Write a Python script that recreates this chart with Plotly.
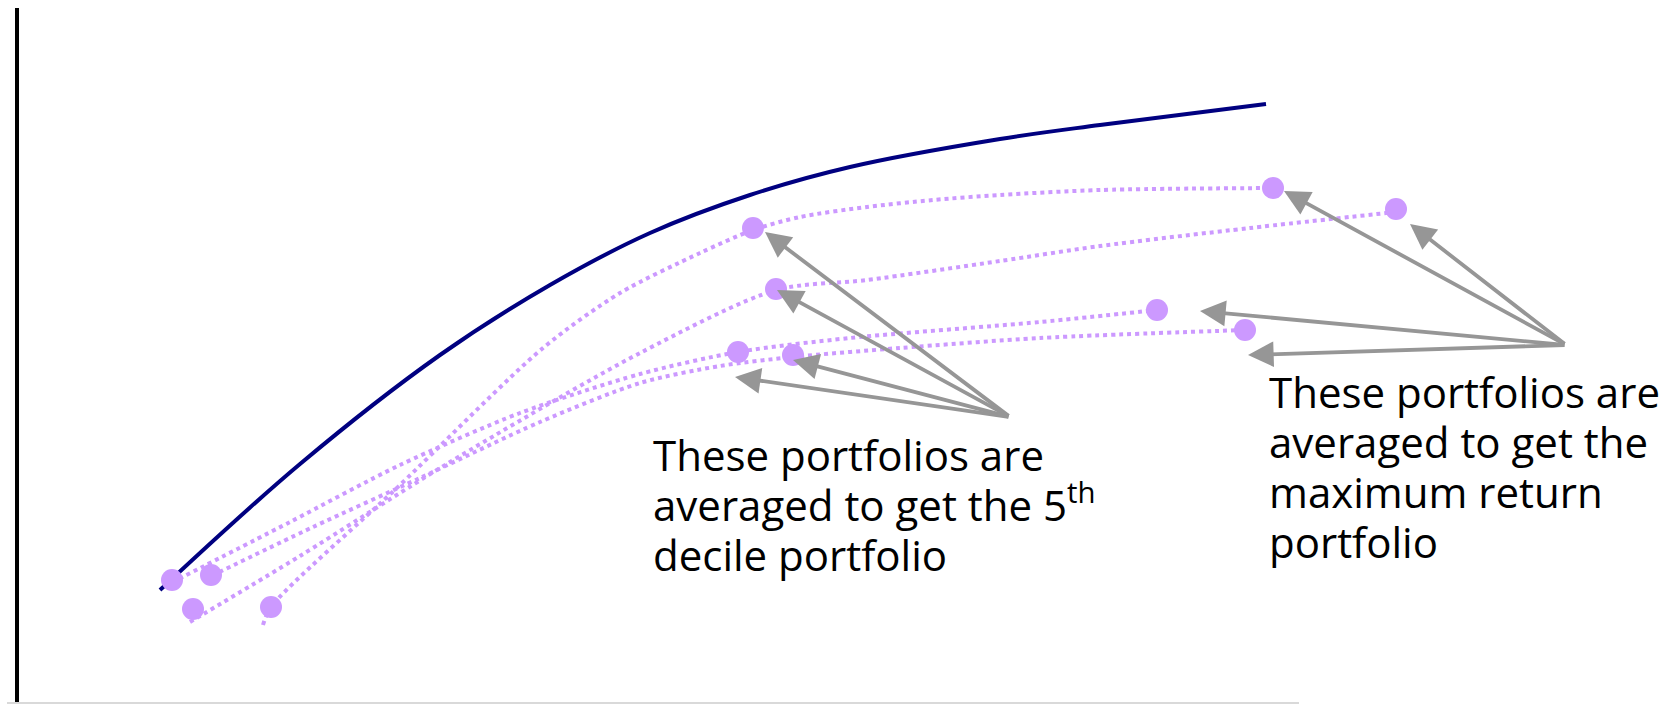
import plotly.graph_objects as go

# ---- data (risk on x, return on y; arbitrary units) ----
frontier_x = [160, 300, 440, 550, 650, 750, 850, 1000, 1100, 1266]
frontier_y = [114, 240, 349, 419, 471, 509, 537, 565, 579, 600]

resamp_a_x = [263, 271, 400, 543, 620, 700, 753, 800, 867, 933, 1000, 1100, 1273]
resamp_a_y = [79, 97, 219, 356, 411, 451, 474, 487, 497, 504, 509, 514, 516]

resamp_b_x = [190, 300, 450, 640, 776, 867, 1000, 1100, 1250, 1396]
resamp_b_y = [82, 148, 242, 351, 414, 424, 443, 458, 476, 492]

resamp_c_x = [165, 290, 400, 520, 640, 738, 850, 1040, 1157]
resamp_c_y = [118, 182, 239, 291, 330, 352, 366, 382, 394]

resamp_d_x = [205, 313, 420, 540, 640, 720, 793, 900, 1040, 1245]
resamp_d_y = [125, 177, 226, 282, 321, 338, 347, 356, 366, 374]

dots_x = [172, 211, 193, 271, 753, 776, 738, 793, 1273, 1396, 1157, 1245]
dots_y = [124, 129, 95, 97, 476, 415, 352, 349, 516, 495, 394, 374]

mid_arrow_origin = (1010, 287)
mid_arrow_tips = [(765, 472), (777, 414), (793, 344), (735, 327)]
max_arrow_origin = (1566, 359)
max_arrow_tips = [(1284, 513), (1410, 480), (1200, 393), (1248, 349)]

mid_label_lines = ["These portfolios are", "averaged to get the 5<sup>th</sup>", "decile portfolio"]
max_label_lines = ["These portfolios are", "averaged to get the", "maximum return", "portfolio"]

NAVY = "#000080"
PURPLE = "#CC99FF"
GRAY = "#969696"

fig = go.Figure()

for xs, ys in [(resamp_a_x, resamp_a_y), (resamp_b_x, resamp_b_y),
               (resamp_c_x, resamp_c_y), (resamp_d_x, resamp_d_y)]:
    fig.add_trace(go.Scatter(x=xs, y=ys, mode="lines",
                             line=dict(color=PURPLE, width=4, dash="dot", shape="spline", smoothing=0.8),
                             hoverinfo="skip", showlegend=False, cliponaxis=False))

fig.add_trace(go.Scatter(x=frontier_x, y=frontier_y, mode="lines",
                         line=dict(color=NAVY, width=4, shape="spline", smoothing=1),
                         hoverinfo="skip", showlegend=False, cliponaxis=False))

fig.add_trace(go.Scatter(x=dots_x, y=dots_y, mode="markers",
                         marker=dict(color=PURPLE, size=22, line=dict(width=0)),
                         hoverinfo="skip", showlegend=False, cliponaxis=False))

annotations = []
for origin, tips in [(mid_arrow_origin, mid_arrow_tips), (max_arrow_origin, max_arrow_tips)]:
    for tx, ty in tips:
        annotations.append(dict(x=tx, y=ty, ax=origin[0], ay=origin[1],
                                xref="x", yref="y", axref="x", ayref="y",
                                text="", showarrow=True, arrowhead=2, arrowsize=1.35,
                                arrowwidth=3.8, arrowcolor=GRAY, standoff=0))

label_font = dict(family="Open Sans, sans-serif", size=42, color="black")
mid_y = [219, 169, 119]
for line, yy in zip(mid_label_lines, mid_y):
    annotations.append(dict(x=651, y=yy, xref="x", yref="y", text=line, showarrow=False,
                            xanchor="left", yanchor="bottom", font=label_font, align="left"))
max_y = [282, 232, 182, 132]
for line, yy in zip(max_label_lines, max_y):
    annotations.append(dict(x=1267, y=yy, xref="x", yref="y", text=line, showarrow=False,
                            xanchor="left", yanchor="bottom", font=label_font, align="left"))

shapes = [
    dict(type="line", xref="x", yref="y", x0=17, x1=17, y0=-5, y1=696,
         line=dict(color="black", width=4)),
    dict(type="line", xref="x", yref="y", x0=7, x1=1299, y0=1, y1=1,
         line=dict(color="#D9D9D9", width=2)),
]

fig.update_layout(
    width=1680, height=704, autosize=False,
    margin=dict(l=0, r=0, t=0, b=0),
    paper_bgcolor="white", plot_bgcolor="white",
    xaxis=dict(range=[0, 1680], visible=False, fixedrange=True),
    yaxis=dict(range=[0, 704], visible=False, fixedrange=True),
    annotations=annotations, shapes=shapes,
)

fig.write_html("out.html", config={"displayModeBar": False},
               post_script="document.body.style.margin='0';document.body.style.overflow='hidden';")
